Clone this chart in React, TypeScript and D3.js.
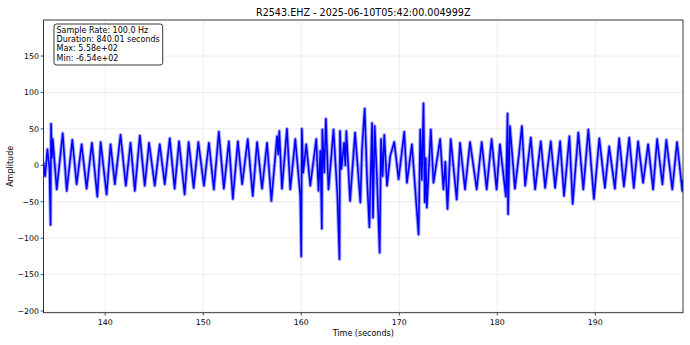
import React from "react";
import * as d3 from "d3";

const titleText = "R2543.EHZ - 2025-06-10T05:42:00.004999Z";
const infoLines = ["Sample Rate: 100.0 Hz", "Duration: 840.01 seconds", "Max: 5.58e+02", "Min: -6.54e+02"];
const xTicks = [140, 150, 160, 170, 180, 190];
const yTicks = [-200, -150, -100, -50, 0, 50, 100, 150];
const xDomain = [133.7, 198.95];
const yDomain = [-202.3, 199.5];

// trace extrema: [time (s), amplitude]
const segment1: [number, number][] = [
  [133.7, 4], [133.86, -15], [134.1, 22], [134.31, -5], [134.42, -82], [134.47, 57], [134.56, 10], [134.64, 36],
  [135.05, -33], [135.66, 44], [136.07, -35], [136.64, 35], [137.08, -26], [137.59, 29], [138.1, -32], [138.64, 31],
  [139.19, -43], [139.53, 32], [140.14, -40], [140.54, 29], [140.98, -26], [141.56, 42], [142.1, -28], [142.58, 31],
  [143.02, -35], [143.53, 41], [144.03, -28], [144.47, 31], [145.05, -28], [145.56, 29], [146.07, -26], [146.58, 37],
  [147.08, -32], [147.53, 33], [148.1, -40], [148.51, 32], [149.02, -31], [149.5, 32],
];
const segment2: [number, number][] = [
  [150.07, -28], [150.58, 31], [151.08, -33], [151.59, 46], [152.1, -32], [152.61, 33], [153.02, -46], [153.53, 33],
  [153.97, -26], [154.54, 36], [155.05, -42], [155.49, 32], [156.0, -32], [156.51, 31], [156.95, -49], [157.53, 40],
  [157.65, 15], [157.76, 47], [158.03, -32], [158.54, 50], [158.88, -33], [159.39, 36], [159.9, -42], [160.0, -125],
  [160.06, 50], [160.2, -10], [160.51, 29], [160.92, -28], [161.53, 36], [161.76, -35], [161.95, 20], [162.1, -87],
  [162.15, 49], [162.35, -10], [162.51, 64], [162.78, -33], [163.29, 49], [163.69, -42], [163.9, -129], [163.95, 47],
  [164.1, -5], [164.37, 31], [164.5, 0], [164.6, 47], [164.98, -49], [165.49, 45], [165.83, -15],
];
const segment3: [number, number][] = [
  [166.03, -51], [166.2, 22], [166.47, 78], [166.71, -17], [166.95, -85], [167.22, 58], [167.32, -72], [167.49, 54],
  [167.73, -19], [168.0, -120], [168.14, 36], [168.3, -15], [168.47, 42], [168.75, -28], [169.08, 13], [169.49, 32],
  [169.93, -19], [170.51, 46], [170.78, -24], [171.29, 29], [171.63, -33], [171.97, -95], [172.14, 49], [172.3, -20],
  [172.47, 85], [172.6, -51], [172.7, 10], [172.81, -58], [173.22, 49], [173.49, -24], [174.17, 36], [174.51, -33],
  [174.7, 5], [174.92, -60], [175.25, 36], [175.86, -47], [176.2, 31], [176.71, -33], [177.22, 32], [177.9, -33],
  [178.41, 32], [178.92, -33], [179.42, 36], [179.93, -33], [180.27, 29], [180.88, -43], [181.05, 71], [181.1, -67],
  [181.29, 54], [181.8, -32], [182.24, 18],
];
const segment4: [number, number][] = [
  [182.51, 54], [182.85, -28], [183.42, 38], [183.86, -33], [184.44, 33], [184.88, -31], [185.46, 33], [185.9, -31],
  [186.41, 33], [186.81, -42], [187.36, 40], [187.69, -53], [188.27, 45], [188.78, -33], [189.29, 49], [189.86, -46],
  [190.41, 37], [190.98, -31], [191.42, 26], [192.0, -32], [192.44, 37], [192.92, -29], [193.46, 38], [193.93, -31],
  [194.37, 33], [194.88, -24], [195.39, 29], [195.9, -33], [196.31, 36], [196.85, -26], [197.25, 35], [197.86, -33],
  [198.34, 32], [198.88, -35], [198.95, -20],
];

const W = 690;
const H = 345;
const M = { left: 43.5, right: 683, top: 20, bottom: 312.7 };
const FONT = "DejaVu Sans, sans-serif";

function fmt(v: number) {
  return v < 0 ? "\u2212" + Math.abs(v) : String(v);
}

export default function App() {
  const x = d3.scaleLinear().domain(xDomain).range([M.left, M.right]);
  const y = d3.scaleLinear().domain(yDomain).range([M.bottom, M.top]);
  const trace = [...segment1, ...segment2, ...segment3, ...segment4];
  const line = d3
    .line<[number, number]>()
    .x((d) => x(d[0]))
    .y((d) => y(d[1]));
  const path = line(trace) || "";
  const grid = "#e8e8e8";
  return (
    <div style={{ position: "fixed", left: 0, top: 0 }}>
      <svg width={W} height={H} style={{ display: "block", background: "#fff" }} fontFamily={FONT}>
        <defs>
          <clipPath id="plot">
            <rect x={M.left} y={M.top} width={M.right - M.left} height={M.bottom - M.top} />
          </clipPath>
        </defs>
        {xTicks.map((t) => (
          <line key={"gx" + t} x1={x(t)} x2={x(t)} y1={M.top} y2={M.bottom} stroke={grid} strokeWidth={0.8} />
        ))}
        {yTicks.map((t) => (
          <line key={"gy" + t} x1={M.left} x2={M.right} y1={y(t)} y2={y(t)} stroke={grid} strokeWidth={0.8} />
        ))}
        <g clipPath="url(#plot)">
          <path d={path} fill="none" stroke="#0000ff" strokeWidth={3.6} strokeOpacity={0.35} strokeLinejoin="round" />
          <path d={path} fill="none" stroke="#0000ff" strokeWidth={1.6} strokeLinejoin="round" />
        </g>
        <rect
          x={M.left}
          y={M.top}
          width={M.right - M.left}
          height={M.bottom - M.top}
          fill="none"
          stroke="#222"
          strokeWidth={0.9}
        />
        {xTicks.map((t) => (
          <g key={"xt" + t}>
            <line x1={x(t)} x2={x(t)} y1={M.bottom} y2={M.bottom + 2.8} stroke="#222" strokeWidth={0.8} />
            <text x={x(t)} y={M.bottom + 12} fontSize={7.8} textAnchor="middle" fill="#000">
              {fmt(t)}
            </text>
          </g>
        ))}
        {yTicks.map((t) => (
          <g key={"yt" + t}>
            <line x1={M.left - 2.8} x2={M.left} y1={y(t)} y2={y(t)} stroke="#222" strokeWidth={0.8} />
            <text x={M.left - 4.5} y={y(t) + 2.8} fontSize={7.8} textAnchor="end" fill="#000">
              {fmt(t)}
            </text>
          </g>
        ))}
        <text x={(M.left + M.right) / 2} y={15.5} fontSize={9.6} textAnchor="middle" fill="#000">
          {titleText}
        </text>
        <text x={(M.left + M.right) / 2} y={336} fontSize={8} textAnchor="middle" fill="#000">
          Time (seconds)
        </text>
        <text
          transform={`translate(12.5, ${(M.top + M.bottom) / 2}) rotate(-90)`}
          fontSize={8}
          textAnchor="middle"
          fill="#000"
        >
          Amplitude
        </text>
        <rect x={54} y={24} width={108.7} height={41} rx={2.5} ry={2.5} fill="#fff" stroke="#000" strokeWidth={0.8} />
        {infoLines.map((s, i) => (
          <text key={s} x={56.5} y={32.5 + i * 9.4} fontSize={8} fill="#000">
            {s}
          </text>
        ))}
      </svg>
    </div>
  );
}
